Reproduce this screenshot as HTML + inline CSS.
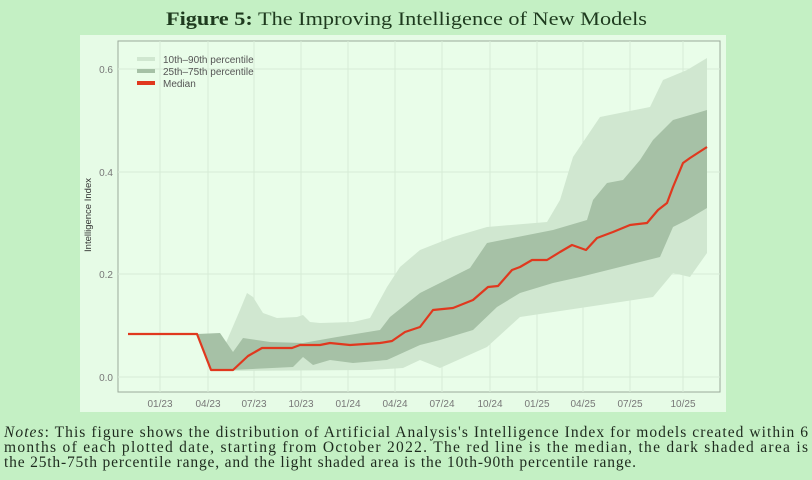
<!DOCTYPE html>
<html><head><meta charset="utf-8"><style>
html,body{margin:0;padding:0;background:#c4f0c4;}
svg{display:block;}
</style></head><body>
<svg width="812" height="480" viewBox="0 0 812 480" xmlns="http://www.w3.org/2000/svg">
<rect x="0" y="0" width="812" height="480" fill="#c4f0c4"/>
<text x="166" y="25" font-family="Liberation Serif, serif" font-size="19" fill="#1e3a1e" textLength="481" lengthAdjust="spacingAndGlyphs"><tspan font-weight="bold">Figure 5:</tspan> The Improving Intelligence of New Models</text>
<rect x="80" y="35" width="646" height="377" fill="#e6fbe6"/>
<rect x="118" y="41" width="602" height="351" fill="#e9fde9" stroke="#9aaa9a" stroke-width="1"/>
<g stroke="#d6ecd6" stroke-width="1">
<line x1="118" x2="720" y1="377" y2="377"/><line x1="118" x2="720" y1="274" y2="274"/>
<line x1="118" x2="720" y1="172" y2="172"/><line x1="118" x2="720" y1="69" y2="69"/>
<line x1="160" x2="160" y1="41" y2="392"/><line x1="208" x2="208" y1="41" y2="392"/>
<line x1="254" x2="254" y1="41" y2="392"/><line x1="301" x2="301" y1="41" y2="392"/>
<line x1="348" x2="348" y1="41" y2="392"/><line x1="395" x2="395" y1="41" y2="392"/>
<line x1="442" x2="442" y1="41" y2="392"/><line x1="490" x2="490" y1="41" y2="392"/>
<line x1="537" x2="537" y1="41" y2="392"/><line x1="583" x2="583" y1="41" y2="392"/>
<line x1="630" x2="630" y1="41" y2="392"/><line x1="683" x2="683" y1="41" y2="392"/>
</g>
<polygon fill="#d0e7d0" points="197,334 215,334 225,345 240,310 247,293 253,297 263,313 277,318 297,317 303,315 310,322 320,323 353,322 370,318 387,287 400,267 420,250 453,237 487,227 547,222 560,200 573,157 600,117 650,107 663,80 687,70 707,58 707,253 690,277 673,273 653,297 587,307 520,317 487,347 440,368 420,360 403,368 370,370 211,371"/>
<polygon fill="#a6c1a6" points="197,334 220,333 233,352 243,338 270,342 303,343 337,337 380,330 390,317 420,293 440,283 470,268 487,243 553,230 587,220 593,200 607,183 623,180 640,160 653,140 673,120 697,113 707,110 707,208 687,220 673,227 660,257 620,267 580,277 553,283 520,293 497,307 473,330 440,340 420,345 387,360 353,363 330,360 313,365 303,357 293,367 211,371"/>
<polyline fill="none" stroke="#e0381e" stroke-width="2.2" stroke-linejoin="round" points="128,334 197,334 211,370 233,370 248,356 262,348 292,348 300,345 320,345 330,343 350,345 380,343 392,341 405,332 420,327 433,310 453,308 473,300 488,287 498,286 512,270 520,267 532,260 547,260 560,252 572,245 586,250 597,238 613,232 630,225 647,223 658,210 667,203 673,187 683,163 690,158 707,147"/>
<g font-family="Liberation Sans, sans-serif" font-size="10" fill="#555">
<rect x="137" y="57" width="18" height="4" fill="#d0e7d0"/>
<rect x="137" y="69" width="18" height="4" fill="#a6c1a6"/>
<rect x="137" y="81" width="18" height="4" fill="#e0381e"/>
<text x="163" y="63">10th–90th percentile</text>
<text x="163" y="75">25th–75th percentile</text>
<text x="163" y="87">Median</text>
<g text-anchor="end" fill="#777"><text x="113" y="381">0.0</text><text x="113" y="278">0.2</text><text x="113" y="176">0.4</text><text x="113" y="73">0.6</text></g>
<text transform="translate(91,215) rotate(-90)" text-anchor="middle" font-size="9.5" fill="#333">Intelligence Index</text>
<g text-anchor="middle" fill="#777">
<text x="160" y="407">01/23</text><text x="208" y="407">04/23</text><text x="254" y="407">07/23</text><text x="301" y="407">10/23</text>
<text x="348" y="407">01/24</text><text x="395" y="407">04/24</text><text x="442" y="407">07/24</text><text x="490" y="407">10/24</text>
<text x="537" y="407">01/25</text><text x="583" y="407">04/25</text><text x="630" y="407">07/25</text><text x="683" y="407">10/25</text>
</g></g>
<g font-family="Liberation Serif, serif" font-size="15.5" fill="#1e2a1e">
<text x="4" y="437" textLength="804" lengthAdjust="spacing"><tspan font-style="italic">Notes</tspan>: This figure shows the distribution of Artificial Analysis's Intelligence Index for models created within 6</text>
<text x="4" y="452" textLength="804" lengthAdjust="spacing">months of each plotted date, starting from October 2022. The red line is the median, the dark shaded area is</text>
<text x="4" y="467" textLength="632" lengthAdjust="spacing">the 25th-75th percentile range, and the light shaded area is the 10th-90th percentile range.</text>
</g>
</svg>
</body></html>
